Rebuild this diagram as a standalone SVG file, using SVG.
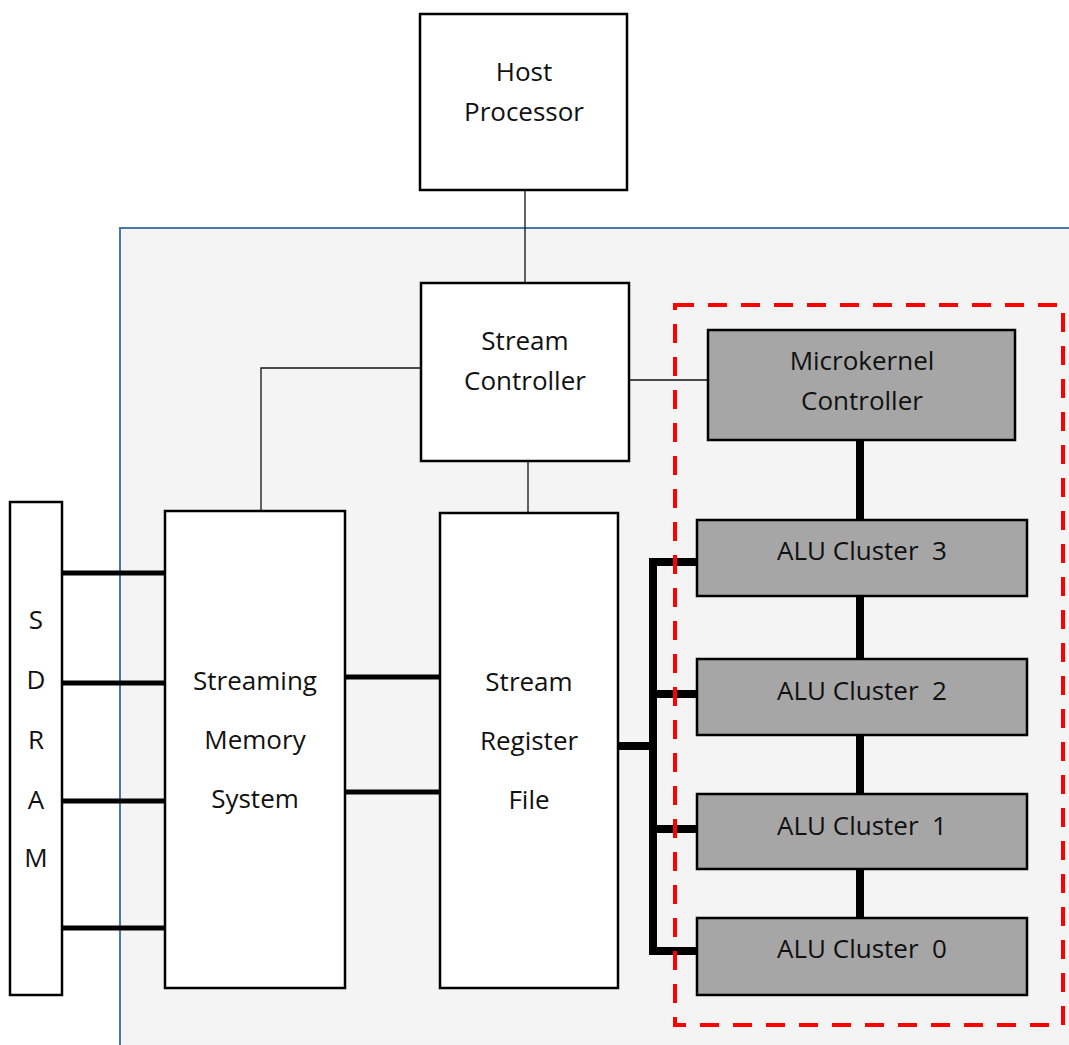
<svg xmlns="http://www.w3.org/2000/svg" width="1069" height="1045" viewBox="0 0 1069 1045">
<style>
.box{fill:#fff;stroke:#000;stroke-width:2.5}
.gbox{fill:#a6a6a6;stroke:#000;stroke-width:2.5}
.t{font-family:"Open Sans","Liberation Sans",sans-serif;font-size:26px;fill:#111;text-anchor:middle;dominant-baseline:central}
.thin{stroke:#111;stroke-width:1.3;fill:none}
.thick{stroke:#000;stroke-width:8;fill:none}
.bus{stroke:#000;stroke-width:5;fill:none}
</style>
<rect width="1069" height="1045" fill="#fff"/>
<g id="panel">
<rect x="120" y="228" width="960" height="830" fill="#f4f4f4"/>
<path d="M120,1045 V228 H1069" fill="none" stroke="#4a76a8" stroke-width="2"/>
</g>
<g id="connectors">
<line class="thin" x1="525" y1="190" x2="525" y2="283"/>
<line class="thin" x1="629" y1="380" x2="708" y2="380"/>
<polyline class="thin" points="421,368 261,368 261,511"/>
<line class="thin" x1="528" y1="461" x2="528" y2="513"/>
<line class="thick" x1="860" y1="440" x2="860" y2="520"/>
<line class="thick" x1="860" y1="596" x2="860" y2="659"/>
<line class="thick" x1="860" y1="735" x2="860" y2="794"/>
<line class="thick" x1="860" y1="869" x2="860" y2="918"/>
<polyline class="thick" points="697,562 653,562 653,951 697,951"/>
<line class="thick" x1="653" y1="694" x2="697" y2="694"/>
<line class="thick" x1="653" y1="829" x2="697" y2="829"/>
<line class="thick" x1="618" y1="746" x2="653" y2="746"/>
<line class="bus" x1="62" y1="573" x2="165" y2="573"/>
<line class="bus" x1="62" y1="683" x2="165" y2="683"/>
<line class="bus" x1="62" y1="801" x2="165" y2="801"/>
<line class="bus" x1="62" y1="928" x2="165" y2="928"/>
<line class="bus" x1="345" y1="677" x2="440" y2="677"/>
<line class="bus" x1="345" y1="792" x2="440" y2="792"/>
</g>
<g id="host">
<rect class="box" x="420" y="14" width="207" height="176"/>
<text class="t" x="524" y="71">Host</text>
<text class="t" x="524" y="111">Processor</text>
</g>
<g id="stream-controller">
<rect class="box" x="421" y="283" width="208" height="178"/>
<text class="t" x="525" y="340">Stream</text>
<text class="t" x="525" y="380">Controller</text>
</g>
<g id="sdram">
<rect class="box" x="10" y="502" width="52" height="493"/>
<text class="t" x="36" y="619">S</text>
<text class="t" x="36" y="679">D</text>
<text class="t" x="36" y="739">R</text>
<text class="t" x="36" y="799">A</text>
<text class="t" x="36" y="857">M</text>
</g>
<g id="streaming-memory">
<rect class="box" x="165" y="511" width="180" height="477"/>
<text class="t" x="255" y="680">Streaming</text>
<text class="t" x="255" y="739">Memory</text>
<text class="t" x="255" y="798">System</text>
</g>
<g id="srf">
<rect class="box" x="440" y="513" width="178" height="475"/>
<text class="t" x="529" y="681">Stream</text>
<text class="t" x="529" y="740">Register</text>
<text class="t" x="529" y="799">File</text>
</g>
<g id="cluster-group">
<rect x="675" y="305" width="388" height="720" fill="none" stroke="#ff0000" stroke-width="4" stroke-dasharray="19,14"/>
</g>
<g id="microkernel">
<rect class="gbox" x="708" y="330" width="307" height="110"/>
<text class="t" x="862" y="360">Microkernel</text>
<text class="t" x="862" y="400">Controller</text>
</g>
<g id="alu3">
<rect class="gbox" x="697" y="520" width="330" height="76"/>
<text class="t" x="862" y="550" xml:space="preserve">ALU Cluster  3</text>
</g>
<g id="alu2">
<rect class="gbox" x="697" y="659" width="330" height="76"/>
<text class="t" x="862" y="690" xml:space="preserve">ALU Cluster  2</text>
</g>
<g id="alu1">
<rect class="gbox" x="697" y="794" width="330" height="75"/>
<text class="t" x="862" y="825" xml:space="preserve">ALU Cluster  1</text>
</g>
<g id="alu0">
<rect class="gbox" x="697" y="918" width="330" height="77"/>
<text class="t" x="862" y="948" xml:space="preserve">ALU Cluster  0</text>
</g>
</svg>
